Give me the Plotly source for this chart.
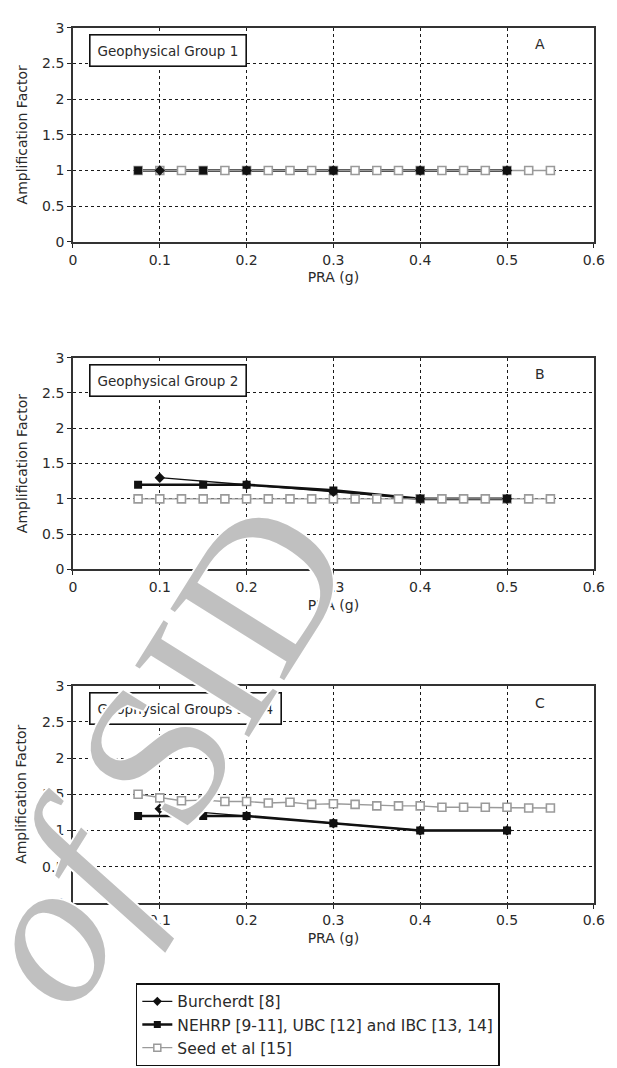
import plotly.graph_objects as go

# ---------------- data ----------------
x_ticks = [0, 0.1, 0.2, 0.3, 0.4, 0.5, 0.6]
x_tick_text = ["0", "0.1", "0.2", "0.3", "0.4", "0.5", "0.6"]
y_ticks = [0, 0.5, 1, 1.5, 2, 2.5, 3]
y_tick_text = ["0", "0.5", "1", "1.5", "2", "2.5", "3"]

panel_titles = ["Geophysical Group 1", "Geophysical Group 2", "Geophysical Groups 3 & 4"]
panel_letters = ["A", "B", "C"]

series_names = ["Burcherdt [8]", "NEHRP [9-11], UBC [12] and IBC [13, 14]", "Seed et al [15]"]

burch_x = [0.1, 0.2, 0.3, 0.4, 0.5]
burch_A = [1.0, 1.0, 1.0, 1.0, 1.0]
burch_B = [1.3, 1.2, 1.1, 1.0, 1.0]
burch_C = [1.3, 1.2, 1.1, 1.0, 1.0]

nehrp_x = [0.075, 0.15, 0.2, 0.3, 0.4, 0.5]
nehrp_A = [1.0, 1.0, 1.0, 1.0, 1.0, 1.0]
nehrp_B = [1.2, 1.2, 1.2, 1.12, 1.0, 1.0]
nehrp_C = [1.2, 1.2, 1.2, 1.1, 1.0, 1.0]

seed_x = [0.075, 0.1, 0.125, 0.15, 0.175, 0.2, 0.225, 0.25, 0.275, 0.3,
          0.325, 0.35, 0.375, 0.4, 0.425, 0.45, 0.475, 0.5, 0.525, 0.55]
seed_A = [1.0, 1.0, 1.0, 1.0, 1.0, 1.0, 1.0, 1.0, 1.0, 1.0,
          1.0, 1.0, 1.0, 1.0, 1.0, 1.0, 1.0, 1.0, 1.0, 1.0]
seed_B = [1.0, 1.0, 1.0, 1.0, 1.0, 1.0, 1.0, 1.0, 1.0, 1.0,
          1.0, 1.0, 1.0, 1.0, 1.0, 1.0, 1.0, 1.0, 1.0, 1.0]
seed_C = [1.5, 1.45, 1.41, 1.42, 1.4, 1.4, 1.38, 1.39, 1.36, 1.37,
          1.36, 1.34, 1.34, 1.34, 1.32, 1.32, 1.32, 1.32, 1.31, 1.31]

burch_all = [burch_A, burch_B, burch_C]
nehrp_all = [nehrp_A, nehrp_B, nehrp_C]
seed_all = [seed_A, seed_B, seed_C]

watermark_text = "<i>of</i> SID"

# ---------------- layout geometry ----------------
W, H = 617, 1068
x_dom = [70.7 / W, 604.5 / W]
y_doms = [
    [1 - 237.5 / H, 1 - 20 / H],
    [1 - 570 / H, 1 - 355 / H],
    [1 - 908.5 / H, 1 - 688 / H],
]
FONT = "DejaVu Sans, Arial, sans-serif"
TXT = "#2a2a2a"
BLACK = "#111111"
GRAY = "#9a9a9a"

fig = go.Figure()

for i in range(3):
    xa = "x" if i == 0 else f"x{i+1}"
    ya = "y" if i == 0 else f"y{i+1}"
    # lines first
    fig.add_trace(go.Scatter(x=nehrp_x, y=nehrp_all[i], mode="lines", xaxis=xa, yaxis=ya,
                             line=dict(color=BLACK, width=2.6), showlegend=False, hoverinfo="skip"))
    fig.add_trace(go.Scatter(x=burch_x, y=burch_all[i], mode="lines", xaxis=xa, yaxis=ya,
                             line=dict(color=BLACK, width=1.3), showlegend=False, hoverinfo="skip"))
    fig.add_trace(go.Scatter(x=seed_x, y=seed_all[i], mode="lines", xaxis=xa, yaxis=ya,
                             line=dict(color=GRAY, width=1.4), showlegend=False, hoverinfo="skip"))
    # markers on top
    fig.add_trace(go.Scatter(x=seed_x, y=seed_all[i], mode="markers", xaxis=xa, yaxis=ya,
                             marker=dict(symbol="square", size=8, color="white",
                                         line=dict(color=GRAY, width=1.6)),
                             showlegend=False, hoverinfo="skip"))
    fig.add_trace(go.Scatter(x=nehrp_x, y=nehrp_all[i], mode="markers", xaxis=xa, yaxis=ya,
                             marker=dict(symbol="square", size=8, color=BLACK),
                             showlegend=False, hoverinfo="skip"))
    fig.add_trace(go.Scatter(x=burch_x, y=burch_all[i], mode="markers", xaxis=xa, yaxis=ya,
                             marker=dict(symbol="diamond", size=8, color=BLACK),
                             showlegend=False, hoverinfo="skip"))

# legend entries
fig.add_trace(go.Scatter(x=[None], y=[None], mode="lines+markers", name=series_names[0],
                         line=dict(color=BLACK, width=1.3),
                         marker=dict(symbol="diamond", size=7, color=BLACK)))
fig.add_trace(go.Scatter(x=[None], y=[None], mode="lines+markers", name=series_names[1],
                         line=dict(color=BLACK, width=2.6),
                         marker=dict(symbol="square", size=7, color=BLACK)))
fig.add_trace(go.Scatter(x=[None], y=[None], mode="lines+markers", name=series_names[2],
                         line=dict(color=GRAY, width=1.4),
                         marker=dict(symbol="square", size=7, color="white",
                                     line=dict(color=GRAY, width=1.5))))

axis_common = dict(
    showgrid=True, gridcolor="#1a1a1a", gridwidth=1.4, griddash="3px,3px",
    showline=True, linecolor="#333333", linewidth=1.6, mirror=True,
    ticks="outside", ticklen=4, tickcolor="#222222", tickwidth=1.3,
    zeroline=False, tickfont=dict(family=FONT, size=14, color=TXT),
)

annotations = []
layout_axes = {}
for i in range(3):
    sx = "xaxis" if i == 0 else f"xaxis{i+1}"
    sy = "yaxis" if i == 0 else f"yaxis{i+1}"
    xa = "x" if i == 0 else f"x{i+1}"
    ya = "y" if i == 0 else f"y{i+1}"
    layout_axes[sx] = dict(axis_common, domain=x_dom, anchor=ya, range=[0, 0.6],
                           tickvals=x_ticks, ticktext=x_tick_text,
                           title=dict(text="PRA (g)", font=dict(family=FONT, size=14, color=TXT),
                                      standoff=6))
    layout_axes[sy] = dict(axis_common, domain=y_doms[i], anchor=xa, range=[0, 3],
                           tickvals=y_ticks, ticktext=y_tick_text)
    # y axis title
    annotations.append(dict(xref="paper", yref="paper", x=18 / W, y=sum(y_doms[i]) / 2,
                            text="Amplification Factor", textangle=-90, showarrow=False,
                            font=dict(family=FONT, size=14, color=TXT),
                            xanchor="center", yanchor="middle"))
    # group box
    annotations.append(dict(xref=f"{xa} domain", yref=f"{ya} domain", x=0.03, y=0.97,
                            text=panel_titles[i], showarrow=False, xanchor="left", yanchor="top",
                            font=dict(family=FONT, size=13.5, color=TXT),
                            bgcolor="white", bordercolor="#111111", borderwidth=1.6, borderpad=7))
    # panel letter
    annotations.append(dict(xref=f"{xa} domain", yref=f"{ya} domain", x=0.896, y=0.922,
                            text=panel_letters[i], showarrow=False, xanchor="center",
                            yanchor="middle", font=dict(family=FONT, size=14, color=TXT)))

# watermark
annotations.append(dict(xref="paper", yref="paper", x=157 / W, y=1 - 756 / H,
                        text=watermark_text, textangle=-58, showarrow=False,
                        xanchor="center", yanchor="middle",
                        font=dict(family="Liberation Serif, Times New Roman, serif",
                                  size=205, color="rgb(192,192,192)",
                                  shadow="2px 0 0 white, -2px 0 0 white, 0 2px 0 white, 0 -2px 0 white")))

fig.update_layout(
    width=W, height=H, autosize=False,
    margin=dict(l=0, r=0, t=0, b=0),
    paper_bgcolor="white", plot_bgcolor="white",
    showlegend=True,
    legend=dict(x=135 / W, y=1 - 990 / H, xanchor="left", yanchor="top",
                bordercolor="#111111", borderwidth=1.6, bgcolor="white",
                font=dict(family=FONT, size=15.5, color=TXT),
                itemwidth=30, tracegroupgap=0, traceorder="normal"),
    annotations=annotations,
    **layout_axes,
)

fig.write_html("out.html", config={"displayModeBar": False},
               post_script="document.body.style.margin='0';document.body.style.overflow='hidden';")
